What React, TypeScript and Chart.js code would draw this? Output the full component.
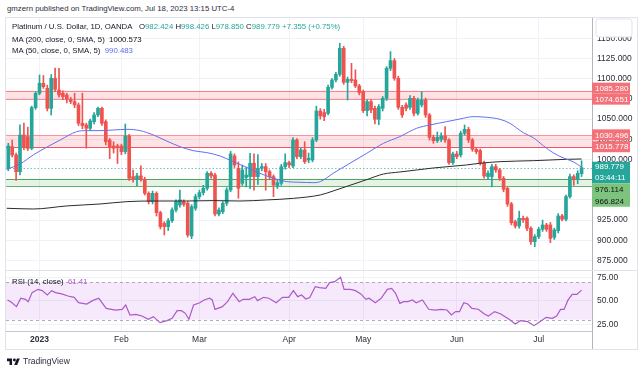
import React, { useEffect, useRef } from 'react';
import { Chart, registerables } from 'chart.js';

Chart.register(...registerables);

const FONT = "'Liberation Sans', Arial, sans-serif";
const UP = '#26a69a';
const DOWN = '#ef5350';
const TEXT = '#131722';
const AXIS_TEXT = '#2a2e39';
const GRID = '#f0f2f7';
const BORDER = '#b2b5be';

// ---- OHLC (daily, Dec 2022 – Jul 18 2023) ----
const OPEN = [989.1, 1015.9, 1005.6, 984.9, 1030.3, 1028.3, 1013.8, 1064.2, 1081.9, 1094.3, 1088.1, 1063.3, 1100.5, 1086.0, 1081.9, 1079.8, 1074.5, 1071.6, 1067.5, 1044.8, 1042.7, 1038.6, 1046.8, 1055.1, 1063.3, 1046.8, 1024.1, 1016.7, 1016.7, 1016.7, 1009.7, 1029.1, 978.8, 975.5, 979.6, 975.5, 958.1, 947.8, 958.1, 934.2, 921.0, 916.9, 924.3, 937.5, 943.7, 947.8, 945.8, 905.3, 939.6, 954.0, 959.0, 964.3, 982.9, 980.8, 932.6, 935.4, 945.8, 962.3, 1004.3, 989.1, 970.5, 977.9, 978.8, 995.3, 978.8, 989.1, 991.1, 984.9, 978.8, 967.2, 970.5, 991.1, 996.1, 992.0, 1024.1, 1003.5, 1011.8, 999.4, 999.4, 1024.1, 1060.0, 1058.0, 1057.1, 1089.3, 1098.4, 1105.4, 1137.6, 1095.5, 1099.2, 1098.4, 1091.0, 1084.0, 1060.4, 1071.6, 1063.3, 1049.7, 1063.3, 1075.7, 1112.8, 1122.3, 1100.5, 1064.6, 1067.5, 1064.6, 1075.7, 1057.1, 1067.5, 1073.6, 1055.1, 1027.4, 1023.3, 1025.0, 1029.1, 1024.1, 996.1, 1006.8, 1005.6, 1032.4, 1037.3, 1024.1, 1012.6, 1010.9, 995.3, 978.8, 978.8, 991.1, 987.0, 976.7, 964.3, 944.9, 923.1, 917.7, 927.2, 927.2, 914.8, 898.3, 904.5, 913.6, 918.9, 918.9, 903.7, 911.9, 930.1, 926.0, 954.0, 978.8, 975.5, 982.424];
const HIGH = [1020.0, 1024.0, 1008.0, 1043.0, 1045.0, 1040.0, 1066.0, 1084.0, 1104.6, 1104.0, 1092.0, 1105.0, 1113.0, 1112.8, 1085.0, 1082.0, 1077.0, 1082.0, 1070.0, 1082.0, 1045.0, 1050.0, 1058.0, 1065.0, 1065.0, 1049.0, 1026.0, 1022.0, 1019.0, 1019.0, 1043.9, 1031.0, 987.0, 983.0, 992.0, 978.0, 960.0, 961.0, 960.0, 936.0, 923.0, 927.0, 940.0, 950.0, 962.0, 950.0, 948.0, 944.0, 957.0, 962.0, 968.0, 985.0, 985.0, 983.0, 940.0, 948.0, 965.0, 1010.0, 1007.0, 997.0, 993.0, 990.0, 1007.6, 1007.0, 1006.0, 995.0, 995.0, 987.0, 981.0, 974.0, 994.0, 1007.0, 998.0, 1027.0, 1026.0, 1014.0, 1022.0, 1008.0, 1027.0, 1066.0, 1063.0, 1062.0, 1092.0, 1100.0, 1108.0, 1143.8, 1140.0, 1102.0, 1119.0, 1111.0, 1093.0, 1086.0, 1074.0, 1074.0, 1066.0, 1068.0, 1078.0, 1115.0, 1133.5, 1125.0, 1103.0, 1067.0, 1070.0, 1079.0, 1078.0, 1076.0, 1084.0, 1076.0, 1057.0, 1030.0, 1034.0, 1033.0, 1040.6, 1026.0, 1009.0, 1010.0, 1035.0, 1042.7, 1040.0, 1026.0, 1015.0, 1013.0, 998.0, 986.0, 994.0, 994.0, 989.0, 979.0, 966.0, 947.0, 925.0, 936.0, 930.0, 929.0, 917.0, 907.0, 916.0, 925.0, 921.0, 922.0, 915.0, 933.0, 932.0, 956.0, 982.0, 981.0, 986.0, 998.426];
const LOW = [986.0, 1003.0, 974.0, 981.0, 1012.0, 1011.0, 1012.0, 1062.0, 1080.0, 1088.0, 1060.0, 1055.0, 1084.0, 1077.0, 1074.0, 1070.0, 1069.0, 1064.0, 1042.0, 1038.0, 1014.0, 1036.0, 1044.0, 1053.0, 1042.0, 1018.0, 1001.0, 1008.0, 995.0, 1006.0, 1007.0, 974.0, 972.0, 967.0, 973.0, 956.0, 945.0, 945.0, 930.0, 914.0, 906.6, 912.0, 922.0, 935.0, 941.0, 942.0, 904.0, 902.0, 937.0, 951.0, 956.0, 962.0, 977.0, 930.0, 930.0, 933.0, 943.0, 960.0, 990.0, 952.0, 968.0, 966.0, 964.0, 962.0, 969.0, 986.0, 962.0, 975.0, 954.0, 964.0, 968.0, 988.0, 990.0, 990.0, 1001.0, 1001.0, 995.0, 996.0, 997.0, 1022.0, 1050.0, 1048.0, 1055.0, 1087.0, 1096.0, 1103.0, 1093.0, 1073.6, 1095.0, 1089.0, 1080.0, 1058.0, 1054.0, 1058.0, 1044.0, 1043.0, 1060.0, 1073.0, 1110.0, 1098.0, 1062.0, 1052.0, 1060.0, 1062.0, 1054.0, 1055.0, 1065.0, 1052.0, 1024.0, 1020.0, 1021.0, 1022.0, 1021.0, 994.0, 994.0, 1001.0, 1003.0, 1030.0, 1021.0, 1010.0, 1007.0, 993.0, 977.0, 976.0, 966.0, 984.0, 974.0, 960.0, 942.0, 919.0, 915.0, 915.0, 922.0, 912.0, 895.0, 892.0, 902.0, 911.0, 911.0, 897.0, 901.0, 909.0, 924.0, 924.0, 952.0, 968.0, 970.0, 978.850];
const CLOSE = [1016.7, 1005.6, 984.9, 1030.3, 1015.1, 1013.8, 1064.2, 1081.9, 1094.3, 1090.1, 1063.3, 1100.5, 1086.8, 1079.8, 1077.8, 1074.5, 1071.6, 1067.5, 1044.8, 1041.9, 1038.6, 1047.7, 1055.1, 1063.3, 1044.8, 1022.1, 1015.1, 1013.8, 1015.1, 1009.7, 1029.1, 976.7, 975.5, 979.6, 975.5, 958.1, 947.8, 958.1, 934.2, 916.9, 916.9, 924.3, 937.5, 947.8, 949.9, 944.5, 906.6, 941.6, 954.0, 959.0, 964.3, 982.9, 979.6, 932.6, 937.5, 945.8, 962.3, 1006.8, 993.2, 964.3, 987.0, 980.8, 995.3, 978.8, 989.1, 991.1, 984.9, 978.8, 968.4, 971.3, 991.1, 996.1, 993.2, 1024.1, 1003.5, 1011.8, 997.3, 1001.4, 1024.1, 1060.0, 1054.0, 1053.0, 1089.3, 1098.4, 1105.4, 1137.6, 1095.5, 1099.2, 1097.6, 1091.0, 1082.7, 1060.4, 1071.6, 1061.3, 1049.7, 1065.4, 1075.7, 1112.8, 1122.3, 1100.5, 1064.6, 1055.1, 1063.3, 1075.7, 1057.1, 1073.6, 1073.6, 1055.1, 1027.4, 1023.3, 1027.4, 1029.1, 1024.1, 996.1, 1006.8, 1003.5, 1032.4, 1037.3, 1024.1, 1012.6, 1009.7, 995.3, 979.6, 982.9, 991.1, 987.0, 976.7, 963.1, 944.9, 921.8, 917.7, 927.2, 925.1, 914.8, 898.3, 904.5, 913.6, 918.9, 913.6, 902.4, 912.8, 930.1, 926.0, 954.0, 978.8, 975.5, 982.9, 989.779];

// ---- Moving averages (bar index -> price) ----
const MA200_IDX = [-0.4, 6.4, 15.0, 23.5, 30.4, 37.2, 45.7, 52.6, 59.4, 66.2, 73.1, 80.0, 83.3, 87.6, 91.9, 96.2, 100.4, 104.7, 109.0, 117.5, 120.9, 126.1, 134.6, 143.2, 147];
const MA200_VAL = [939.6, 938.7, 942.5, 944.9, 947.8, 948.6, 948.6, 949.1, 948.6, 949.9, 951.9, 956.1, 961.0, 968.0, 975.0, 982.0, 984.5, 987.0, 989.5, 993.2, 995.3, 997.3, 998.5, 1000.2, 1000.573];
const MA50_IDX = [-0.4, 3.0, 6.4, 9.8, 13.3, 17.5, 20.1, 23.5, 27.0, 30.4, 33.8, 37.2, 40.6, 44.0, 47.4, 50.9, 54.3, 57.7, 61.1, 64.5, 68.0, 71.4, 74.8, 78.2, 80.0, 83.3, 87.6, 91.9, 96.2, 100.4, 104.7, 108.1, 112.4, 116.7, 119.2, 122.7, 126.1, 128.6, 132.1, 134.6, 137.2, 139.8, 142.3, 144.9, 147];
const MA50_VAL = [987.8, 994.4, 1005.6, 1015.1, 1024.1, 1034.4, 1035.7, 1035.7, 1036.5, 1037.3, 1035.7, 1030.3, 1022.9, 1015.9, 1010.9, 1008.5, 1004.3, 997.3, 990.3, 982.9, 976.7, 972.6, 971.8, 971.3, 972.6, 982.9, 995.3, 1007.6, 1020.0, 1028.3, 1038.6, 1042.7, 1046.8, 1051.0, 1053.0, 1052.2, 1049.7, 1044.8, 1033.0, 1027.0, 1017.0, 1008.0, 1002.0, 997.0, 990.483];

// ---- RSI(14) points ----
const RSI_IDX = [-0.2, 0.8, 2.1, 3.2, 4.4, 5.1, 6.1, 7.6, 8.7, 10.0, 11.1, 12.1, 13.7, 15.3, 16.9, 18.0, 20.1, 21.6, 23.2, 25.1, 27.5, 29.2, 30.1, 31.2, 32.7, 34.3, 35.9, 37.2, 38.9, 40.7, 42.0, 43.3, 44.4, 45.4, 46.3, 47.5, 49.1, 50.2, 51.6, 52.3, 53.0, 54.9, 56.2, 57.6, 59.2, 60.2, 61.8, 63.2, 63.9, 65.5, 66.8, 68.7, 70.3, 71.9, 73.1, 74.2, 75.2, 76.3, 77.3, 78.7, 79.8, 81.4, 82.4, 83.7, 85.2, 86.1, 87.7, 89.0, 90.4, 91.7, 92.5, 94.1, 95.6, 97.2, 98.3, 99.3, 100.4, 101.4, 102.5, 103.6, 104.6, 106.2, 107.8, 109.4, 111.0, 112.5, 113.6, 114.7, 115.7, 116.8, 117.8, 118.9, 120.5, 122.1, 123.1, 124.7, 126.3, 128.4, 130.0, 131.3, 133.2, 134.8, 136.3, 137.9, 139.5, 140.6, 141.6, 142.5, 143.5, 144.6, 145.8, 147.0];
const RSI_VAL = [50.9, 48.4, 43.8, 52.7, 51.6, 49.1, 58.7, 62.2, 60.8, 56.2, 60.8, 58.7, 57.3, 55.1, 53.7, 48.0, 46.6, 50.2, 52.7, 42.0, 40.2, 40.9, 45.6, 34.9, 35.6, 33.9, 30.3, 33.2, 26.8, 28.9, 31.4, 39.5, 39.5, 36.7, 30.3, 45.6, 48.0, 50.9, 52.7, 50.9, 40.9, 43.8, 49.1, 58.0, 49.1, 51.6, 51.6, 54.4, 50.2, 53.7, 52.7, 48.0, 53.7, 53.7, 60.8, 54.4, 56.2, 51.9, 53.4, 65.1, 64.0, 63.3, 69.3, 70.4, 75.0, 62.2, 62.2, 60.8, 57.3, 51.6, 52.7, 48.0, 52.7, 62.2, 63.3, 58.0, 47.3, 49.1, 49.1, 50.9, 48.0, 50.9, 41.0, 40.2, 40.9, 40.2, 34.9, 38.5, 38.5, 48.0, 46.6, 42.0, 41.0, 36.0, 33.9, 38.5, 36.0, 30.3, 25.4, 28.9, 27.8, 23.6, 27.8, 32.4, 31.4, 33.9, 40.9, 40.9, 50.7, 56.9, 56.9, 61.41];

// ---- axes / annotations ----
const MONTH_IDX = [8, 29, 49, 72, 91, 115, 136];
const MONTH_LABELS = ['2023', 'Feb', 'Mar', 'Apr', 'May', 'Jun', 'Jul'];
const PRICE_TICKS = [875, 900, 925, 950, 975, 1000, 1025, 1050, 1075, 1100, 1125, 1150];
const RSI_TICKS = [25, 50, 75];
const RED_ZONES = [[1074.651, 1085.28], [1015.778, 1030.496]];
const GREEN_ZONE = [966.824, 976.114];
const RSI_BAND = [30, 70];
const LAST_CLOSE = 989.779;
const COUNTDOWN = '03:44:11';
const X_MIN = -0.59;
const X_MAX = 149.67;

const pts = (xs: number[], ys: number[]) => xs.map((x, i) => ({ x, y: ys[i] }));

const xScaleBase = {
  type: 'linear',
  min: X_MIN,
  max: X_MAX,
  offset: false,
  afterBuildTicks: (s: any) => { s.ticks = MONTH_IDX.map((v) => ({ value: v })); },
};

export default function App() {
  const priceRef = useRef<HTMLCanvasElement>(null);
  const rsiRef = useRef<HTMLCanvasElement>(null);

  useEffect(() => {
    const priceDecor = {
      id: 'priceDecor',
      beforeDatasetsDraw(chart: any) {
        const { ctx, chartArea: a } = chart;
        const y = chart.scales.y;
        ctx.save();
        ctx.beginPath();
        ctx.rect(a.left, a.top, a.right - a.left, a.bottom - a.top);
        ctx.clip();
        const zone = (lo: number, hi: number, fill: string, topC: string, botC: string) => {
          const yt = y.getPixelForValue(hi);
          const yb = y.getPixelForValue(lo);
          ctx.fillStyle = fill;
          ctx.fillRect(a.left, yt, a.right - a.left, yb - yt);
          ctx.lineWidth = 1;
          ctx.strokeStyle = topC;
          ctx.beginPath(); ctx.moveTo(a.left, Math.round(yt) + 0.5); ctx.lineTo(a.right, Math.round(yt) + 0.5); ctx.stroke();
          ctx.strokeStyle = botC;
          ctx.beginPath(); ctx.moveTo(a.left, Math.round(yb) + 0.5); ctx.lineTo(a.right, Math.round(yb) + 0.5); ctx.stroke();
        };
        zone(RED_ZONES[0][0], RED_ZONES[0][1], 'rgba(242,54,69,0.14)', 'rgba(242,54,69,0.55)', 'rgba(242,54,69,0.55)');
        zone(RED_ZONES[1][0], RED_ZONES[1][1], 'rgba(242,54,69,0.14)', 'rgba(242,54,69,0.45)', 'rgba(242,54,69,0.85)');
        zone(GREEN_ZONE[0], GREEN_ZONE[1], 'rgba(76,175,80,0.15)', 'rgba(67,160,71,0.9)', 'rgba(67,160,71,0.8)');
        const yc = Math.round(y.getPixelForValue(LAST_CLOSE)) + 0.5;
        ctx.setLineDash([1.5, 2]);
        ctx.strokeStyle = 'rgba(38,166,154,0.65)';
        ctx.beginPath(); ctx.moveTo(a.left, yc); ctx.lineTo(a.right, yc); ctx.stroke();
        ctx.restore();
      },
      afterDraw(chart: any) {
        const { ctx, chartArea: a } = chart;
        const y = chart.scales.y;
        const x0 = a.right;
        const W = 38;
        const H = 11;
        ctx.save();
        ctx.font = `8px ${FONT}`;
        ctx.textBaseline = 'middle';
        ctx.textAlign = 'left';
        const tag = (yc: number, text: string, bg: string, fg: string) => {
          ctx.fillStyle = bg;
          ctx.fillRect(x0, yc - H / 2, W, H);
          ctx.fillStyle = fg;
          ctx.fillText(text, x0 + 3, yc + 0.5);
        };
        RED_ZONES.forEach(([lo, hi]) => {
          const yLo = y.getPixelForValue(lo);
          let yHi = y.getPixelForValue(hi);
          if (yLo - yHi < H) yHi = yLo - H;
          tag(yHi, hi.toFixed(3), '#f3727a', '#ffffff');
          tag(yLo, lo.toFixed(3), '#f3727a', '#ffffff');
        });
        // last price + countdown
        const yClose = y.getPixelForValue(LAST_CLOSE);
        const boxTop = yClose - 6;
        const boxH = 21.6;
        ctx.fillStyle = UP;
        ctx.fillRect(x0, boxTop, W, boxH);
        ctx.fillStyle = '#ffffff';
        ctx.fillText(LAST_CLOSE.toFixed(3), x0 + 3, yClose - 0.5);
        ctx.fillText(COUNTDOWN, x0 + 3, yClose + 10.3);
        let prevBottom = boxTop + boxH;
        [GREEN_ZONE[1], GREEN_ZONE[0]].forEach((v) => {
          const yc = Math.max(y.getPixelForValue(v), prevBottom + 5.85);
          ctx.fillStyle = '#7cc37e';
          ctx.fillRect(x0, yc - 5.85, W, 11.7);
          ctx.fillStyle = '#111111';
          ctx.fillText(v.toFixed(3), x0 + 3, yc + 0.5);
          prevBottom = yc + 5.85;
        });
        // settings box at the top right of the price axis
        const bx = x0 + 4, by = 1, bw = 36, bh = 18, r = 3;
        ctx.beginPath();
        ctx.moveTo(bx + r, by);
        ctx.arcTo(bx + bw, by, bx + bw, by + bh, r);
        ctx.arcTo(bx + bw, by + bh, bx, by + bh, r);
        ctx.arcTo(bx, by + bh, bx, by, r);
        ctx.arcTo(bx, by, bx + bw, by, r);
        ctx.closePath();
        ctx.fillStyle = '#ffffff';
        ctx.fill();
        ctx.strokeStyle = '#e0e3eb';
        ctx.lineWidth = 1;
        ctx.stroke();
        ctx.restore();
      },
    };

    const rsiDecor = {
      id: 'rsiDecor',
      beforeDatasetsDraw(chart: any) {
        const { ctx, chartArea: a } = chart;
        const y = chart.scales.y;
        const yHi = y.getPixelForValue(RSI_BAND[1]);
        const yLo = y.getPixelForValue(RSI_BAND[0]);
        ctx.save();
        ctx.fillStyle = 'rgba(190,100,230,0.14)';
        ctx.fillRect(a.left, yHi, a.right - a.left, yLo - yHi);
        ctx.setLineDash([3, 3]);
        ctx.strokeStyle = 'rgba(140,143,155,0.7)';
        ctx.lineWidth = 1;
        [yHi, yLo].forEach((v) => {
          ctx.beginPath(); ctx.moveTo(a.left, Math.round(v) + 0.5); ctx.lineTo(a.right, Math.round(v) + 0.5); ctx.stroke();
        });
        ctx.restore();
      },
      afterDraw(chart: any) {
        const { ctx, chartArea: a, width, height } = chart;
        ctx.save();
        ctx.strokeStyle = BORDER;
        ctx.lineWidth = 1;
        const xr = Math.round(a.right) + 0.5;
        ctx.beginPath(); ctx.moveTo(xr, a.bottom); ctx.lineTo(xr, height); ctx.stroke();
        ctx.strokeStyle = '#e0e3eb';
        ctx.beginPath(); ctx.moveTo(0, 0.5); ctx.lineTo(width, 0.5); ctx.stroke();
        ctx.restore();
      },
    };

    const upDown = (i: number) => (CLOSE[i] >= OPEN[i] ? UP : DOWN);

    const priceChart = new Chart(priceRef.current as HTMLCanvasElement, {
      type: 'bar',
      data: {
        datasets: [
          {
            type: 'line',
            data: pts(MA50_IDX, MA50_VAL),
            borderColor: '#6170f0',
            borderWidth: 1,
            pointRadius: 0,
            cubicInterpolationMode: 'monotone',
            order: 0,
          },
          {
            type: 'line',
            data: pts(MA200_IDX, MA200_VAL),
            borderColor: '#2b2b2b',
            borderWidth: 1,
            pointRadius: 0,
            cubicInterpolationMode: 'monotone',
            order: 0,
          },
          {
            type: 'bar',
            data: OPEN.map((o, i) => ({ x: i, y: [o, CLOSE[i]] })),
            backgroundColor: (c: any) => upDown(c.dataIndex),
            barThickness: 3,
            minBarLength: 1,
            grouped: false,
            borderWidth: 0,
            order: 1,
          },
          {
            type: 'bar',
            data: LOW.map((l, i) => ({ x: i, y: [l, HIGH[i]] })),
            backgroundColor: (c: any) => upDown(c.dataIndex),
            barThickness: 1,
            grouped: false,
            borderWidth: 0,
            order: 2,
          },
        ] as any,
      },
      options: {
        responsive: false,
        animation: false,
        events: [],
        layout: { padding: 0 },
        plugins: { legend: { display: false }, tooltip: { enabled: false } },
        scales: {
          x: {
            ...xScaleBase,
            display: true,
            ticks: { display: false, autoSkip: false },
            grid: { color: GRID, drawTicks: false, offset: false },
            border: { display: false },
            afterFit: (s: any) => { s.height = 0; s.paddingLeft = 0; s.paddingRight = 0; },
          },
          y: {
            type: 'linear',
            position: 'right',
            min: 863.2,
            max: 1175.1,
            beginAtZero: false,
            afterBuildTicks: (s: any) => { s.ticks = PRICE_TICKS.map((v) => ({ value: v })); },
            afterFit: (s: any) => { s.width = 45; s.paddingTop = 0; s.paddingBottom = 0; },
            ticks: {
              callback: (v: any) => Number(v).toFixed(3),
              font: { size: 8.5, family: FONT },
              color: AXIS_TEXT,
              padding: 5,
              autoSkip: false,
            },
            grid: { color: GRID, drawTicks: false },
            border: { display: true, color: BORDER },
          },
        } as any,
      },
      plugins: [priceDecor],
    } as any);

    const rsiChart = new Chart(rsiRef.current as HTMLCanvasElement, {
      type: 'line',
      data: {
        datasets: [
          {
            data: pts(RSI_IDX, RSI_VAL),
            borderColor: '#ad5ac8',
            borderWidth: 1.2,
            pointRadius: 0,
            tension: 0,
          },
        ],
      },
      options: {
        responsive: false,
        animation: false,
        events: [],
        layout: { padding: { top: 1, left: 0, right: 0, bottom: 0 } },
        plugins: { legend: { display: false }, tooltip: { enabled: false } },
        scales: {
          x: {
            ...xScaleBase,
            position: 'bottom',
            afterFit: (s: any) => { s.height = 18; s.paddingLeft = 0; s.paddingRight = 0; },
            ticks: {
              autoSkip: false,
              maxRotation: 0,
              padding: 4,
              color: AXIS_TEXT,
              font: (c: any) => ({ size: 8.5, family: FONT, weight: c.tick && c.tick.value === MONTH_IDX[0] ? 'bold' : 'normal' }),
              callback: (v: any) => {
                const k = MONTH_IDX.indexOf(Number(v));
                return k >= 0 ? MONTH_LABELS[k] : '';
              },
            },
            grid: { color: GRID, drawTicks: false },
            border: { display: true, color: '#c4c6cc' },
          },
          y: {
            type: 'linear',
            position: 'right',
            min: 17.9,
            max: 81.7,
            afterBuildTicks: (s: any) => { s.ticks = RSI_TICKS.map((v) => ({ value: v })); },
            afterFit: (s: any) => { s.width = 45; s.paddingTop = 0; s.paddingBottom = 0; },
            ticks: {
              callback: (v: any) => Number(v).toFixed(2),
              font: { size: 8.5, family: FONT },
              color: AXIS_TEXT,
              padding: 5,
            },
            grid: { color: GRID, drawTicks: false },
            border: { display: true, color: BORDER },
          },
        } as any,
      },
      plugins: [rsiDecor],
    } as any);

    return () => {
      priceChart.destroy();
      rsiChart.destroy();
    };
  }, []);

  const abs = (left: number, top: number, extra: any = {}) => ({
    position: 'absolute' as const,
    left,
    top,
    whiteSpace: 'nowrap' as const,
    font: `7.8px ${FONT}`,
    lineHeight: '10px',
    color: TEXT,
    ...extra,
  });
  const teal = { color: UP };

  return (
    <div style={{ position: 'absolute', left: 0, top: 0, width: 643, height: 373, background: '#ffffff', overflow: 'hidden', fontFamily: FONT }}>
      <div style={abs(7, 4, { color: '#2a2e39' })}>gmzern published on TradingView.com, Jul 18, 2023 13:15 UTC-4</div>
      <div style={{ position: 'absolute', left: 5, top: 17, width: 633, height: 333, border: '1px solid #e0e3eb', boxSizing: 'border-box' }} />
      <canvas ref={priceRef} width={631} height={252} style={{ position: 'absolute', left: 6, top: 18, width: 631, height: 252 }} />
      <canvas ref={rsiRef} width={631} height={79} style={{ position: 'absolute', left: 6, top: 270, width: 631, height: 79 }} />
      <div style={abs(12, 22)}>
        Platinum / U.S. Dollar, 1D, OANDA&nbsp;&nbsp;
        O<span style={teal}>982.424</span>&nbsp;H<span style={teal}>998.426</span>&nbsp;L<span style={teal}>978.850</span>&nbsp;C<span style={teal}>989.779</span>&nbsp;<span style={teal}>+7.355 (+0.75%)</span>
      </div>
      <div style={abs(12, 34.5)}>
        MA (200, close, 0, SMA, 5)&nbsp;&nbsp;<span style={{ color: '#111' }}>1000.573</span>
      </div>
      <div style={abs(12, 45.5)}>
        MA (50, close, 0, SMA, 5)&nbsp;&nbsp;<span style={{ color: '#5f6cf2' }}>990.483</span>
      </div>
      <div style={abs(12, 277)}>
        RSI (14, close)&nbsp;&nbsp;<span style={{ color: '#ad5ac8' }}>61.41</span>
      </div>
      <div style={{ position: 'absolute', left: 7, top: 356, display: 'flex', alignItems: 'center', gap: 3 }}>
        <svg width="13" height="9" viewBox="0 0 36 24">
          <path d="M14 22H7V11H0V4h14v18z" fill="#131722" />
          <circle cx="20.5" cy="8" r="4" fill="#131722" />
          <path d="M28 22h-8l7.5-18h8L28 22z" fill="#131722" />
        </svg>
        <span style={{ font: `8.5px ${FONT}`, color: '#2a2e39' }}>TradingView</span>
      </div>
    </div>
  );
}
